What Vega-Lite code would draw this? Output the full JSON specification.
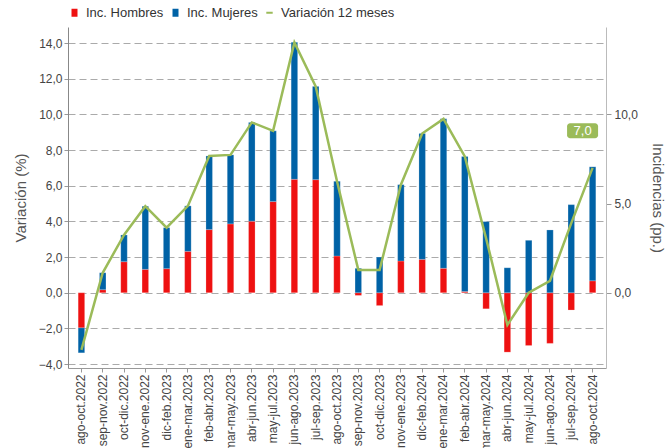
{
  "$schema": "https://vega.github.io/schema/vega-lite/v6.json",
  "width": 538,
  "height": 341,
  "autosize": {"type": "none"},
  "padding": {"left": 68, "top": 27, "right": 66, "bottom": 80},
  "config": {
    "locale": {"number": {"decimal": ",", "thousands": ".", "grouping": [3], "currency": ["", " €"]}},
    "font": "Liberation Sans",
    "view": {"stroke": null},
    "axis": {
      "labelFont": "Liberation Sans",
      "labelFontSize": 12,
      "labelColor": "#444444",
      "titleFont": "Liberation Sans",
      "titleFontSize": 15,
      "titleFontWeight": "normal",
      "titleColor": "#555555",
      "domainColor": "#999999",
      "tickColor": "#999999"
    },
    "legend": {"labelFont": "Liberation Sans"}
  },
  "datasets": {
    "barras": [
      {"periodo": "ago-oct.2022", "serie": "Inc. Hombres", "valor": -1.97},
      {"periodo": "ago-oct.2022", "serie": "Inc. Mujeres", "valor": -1.40},
      {"periodo": "sep-nov.2022", "serie": "Inc. Hombres", "valor": 0.17},
      {"periodo": "sep-nov.2022", "serie": "Inc. Mujeres", "valor": 0.95},
      {"periodo": "oct-dic.2022", "serie": "Inc. Hombres", "valor": 1.74},
      {"periodo": "oct-dic.2022", "serie": "Inc. Mujeres", "valor": 1.50},
      {"periodo": "nov-ene.2022", "serie": "Inc. Hombres", "valor": 1.31},
      {"periodo": "nov-ene.2022", "serie": "Inc. Mujeres", "valor": 3.54},
      {"periodo": "dic-feb.2023", "serie": "Inc. Hombres", "valor": 1.35},
      {"periodo": "dic-feb.2023", "serie": "Inc. Mujeres", "valor": 2.30},
      {"periodo": "ene-mar.2023", "serie": "Inc. Hombres", "valor": 2.32},
      {"periodo": "ene-mar.2023", "serie": "Inc. Mujeres", "valor": 2.55},
      {"periodo": "feb-abr.2023", "serie": "Inc. Hombres", "valor": 3.54},
      {"periodo": "feb-abr.2023", "serie": "Inc. Mujeres", "valor": 4.13},
      {"periodo": "mar-may.2023", "serie": "Inc. Hombres", "valor": 3.86},
      {"periodo": "mar-may.2023", "serie": "Inc. Mujeres", "valor": 3.87},
      {"periodo": "abr-jun.2023", "serie": "Inc. Hombres", "valor": 4.01},
      {"periodo": "abr-jun.2023", "serie": "Inc. Mujeres", "valor": 5.54},
      {"periodo": "may-jul.2023", "serie": "Inc. Hombres", "valor": 5.11},
      {"periodo": "may-jul.2023", "serie": "Inc. Mujeres", "valor": 3.97},
      {"periodo": "jun-ago.2023", "serie": "Inc. Hombres", "valor": 6.36},
      {"periodo": "jun-ago.2023", "serie": "Inc. Mujeres", "valor": 7.68},
      {"periodo": "jul-sep.2023", "serie": "Inc. Hombres", "valor": 6.34},
      {"periodo": "jul-sep.2023", "serie": "Inc. Mujeres", "valor": 5.23},
      {"periodo": "ago-oct.2023", "serie": "Inc. Hombres", "valor": 2.06},
      {"periodo": "ago-oct.2023", "serie": "Inc. Mujeres", "valor": 4.19},
      {"periodo": "sep-nov.2023", "serie": "Inc. Hombres", "valor": -0.15},
      {"periodo": "sep-nov.2023", "serie": "Inc. Mujeres", "valor": 1.37},
      {"periodo": "oct-dic.2023", "serie": "Inc. Hombres", "valor": -0.72},
      {"periodo": "oct-dic.2023", "serie": "Inc. Mujeres", "valor": 2.00},
      {"periodo": "nov-ene.2023", "serie": "Inc. Hombres", "valor": 1.78},
      {"periodo": "nov-ene.2023", "serie": "Inc. Mujeres", "valor": 4.28},
      {"periodo": "dic-feb.2024", "serie": "Inc. Hombres", "valor": 1.87},
      {"periodo": "dic-feb.2024", "serie": "Inc. Mujeres", "valor": 7.06},
      {"periodo": "ene-mar.2024", "serie": "Inc. Hombres", "valor": 1.37},
      {"periodo": "ene-mar.2024", "serie": "Inc. Mujeres", "valor": 8.38},
      {"periodo": "feb-abr.2024", "serie": "Inc. Hombres", "valor": 0.07},
      {"periodo": "feb-abr.2024", "serie": "Inc. Mujeres", "valor": 7.57},
      {"periodo": "mar-may.2024", "serie": "Inc. Hombres", "valor": -0.90},
      {"periodo": "mar-may.2024", "serie": "Inc. Mujeres", "valor": 3.99},
      {"periodo": "abr-jun.2024", "serie": "Inc. Hombres", "valor": -3.33},
      {"periodo": "abr-jun.2024", "serie": "Inc. Mujeres", "valor": 1.40},
      {"periodo": "may-jul.2024", "serie": "Inc. Hombres", "valor": -2.96},
      {"periodo": "may-jul.2024", "serie": "Inc. Mujeres", "valor": 2.94},
      {"periodo": "jun-ago.2024", "serie": "Inc. Hombres", "valor": -2.84},
      {"periodo": "jun-ago.2024", "serie": "Inc. Mujeres", "valor": 3.52},
      {"periodo": "jul-sep.2024", "serie": "Inc. Hombres", "valor": -0.97},
      {"periodo": "jul-sep.2024", "serie": "Inc. Mujeres", "valor": 4.94},
      {"periodo": "ago-oct.2024", "serie": "Inc. Hombres", "valor": 0.67},
      {"periodo": "ago-oct.2024", "serie": "Inc. Mujeres", "valor": 6.39}
    ],
    "linea": [
      {"periodo": "ago-oct.2022", "variacion": -3.2},
      {"periodo": "sep-nov.2022", "variacion": 1.12},
      {"periodo": "oct-dic.2022", "variacion": 3.24},
      {"periodo": "nov-ene.2022", "variacion": 4.85},
      {"periodo": "dic-feb.2023", "variacion": 3.65},
      {"periodo": "ene-mar.2023", "variacion": 4.87},
      {"periodo": "feb-abr.2023", "variacion": 7.67},
      {"periodo": "mar-may.2023", "variacion": 7.73},
      {"periodo": "abr-jun.2023", "variacion": 9.55},
      {"periodo": "may-jul.2023", "variacion": 9.08},
      {"periodo": "jun-ago.2023", "variacion": 14.04},
      {"periodo": "jul-sep.2023", "variacion": 11.57},
      {"periodo": "ago-oct.2023", "variacion": 6.25},
      {"periodo": "sep-nov.2023", "variacion": 1.28},
      {"periodo": "oct-dic.2023", "variacion": 1.28},
      {"periodo": "nov-ene.2023", "variacion": 6.06},
      {"periodo": "dic-feb.2024", "variacion": 8.93},
      {"periodo": "ene-mar.2024", "variacion": 9.75},
      {"periodo": "feb-abr.2024", "variacion": 7.64},
      {"periodo": "mar-may.2024", "variacion": 3.05},
      {"periodo": "abr-jun.2024", "variacion": -1.8},
      {"periodo": "may-jul.2024", "variacion": 0.0},
      {"periodo": "jun-ago.2024", "variacion": 0.67},
      {"periodo": "jul-sep.2024", "variacion": 3.9},
      {"periodo": "ago-oct.2024", "variacion": 7.0}
    ]
  },
  "encoding": {
    "x": {
      "field": "periodo",
      "type": "nominal",
      "scale": {
        "domain": ["ago-oct.2022", "sep-nov.2022", "oct-dic.2022", "nov-ene.2022", "dic-feb.2023", "ene-mar.2023", "feb-abr.2023", "mar-may.2023", "abr-jun.2023", "may-jul.2023", "jun-ago.2023", "jul-sep.2023", "ago-oct.2023", "sep-nov.2023", "oct-dic.2023", "nov-ene.2023", "dic-feb.2024", "ene-mar.2024", "feb-abr.2024", "mar-may.2024", "abr-jun.2024", "may-jul.2024", "jun-ago.2024", "jul-sep.2024", "ago-oct.2024"],
        "paddingInner": 0,
        "paddingOuter": 0.13
      },
      "axis": {
        "title": null,
        "labelAngle": -90,
        "tickSize": 4,
        "labelPadding": 2,
        "labelFontSize": 12,
        "domainColor": "#999999"
      }
    }
  },
  "layer": [
    {
      "data": {"name": "barras"},
      "mark": {"type": "bar", "width": 6.5, "stroke": "#ffffff", "strokeWidth": 0.4, "strokeOpacity": 0.5},
      "encoding": {
        "y": {
          "field": "valor",
          "type": "quantitative",
          "stack": "zero",
          "scale": {"domain": [-4.22, 14.9], "nice": false, "zero": false},
          "axis": {
            "title": "Variación (%)",
            "values": [-4, -2, 0, 2, 4, 6, 8, 10, 12, 14],
            "format": ".1f",
            "grid": true,
            "gridDash": [7, 4],
            "gridColor": "#aaaaaa",
            "gridWidth": 1,
            "tickSize": 4,
            "labelPadding": 2,
            "titlePadding": 10,
            "domainColor": "#888888"
          }
        },
        "color": {
          "field": "serie",
          "type": "nominal",
          "scale": {
            "domain": ["Inc. Hombres", "Inc. Mujeres", "Variación 12 meses"],
            "range": ["#EE1111", "#0062A6", "#9BBB59"]
          },
          "legend": {
            "orient": "top",
            "direction": "horizontal",
            "title": null,
            "offset": 7,
            "labelFontSize": 13,
            "labelColor": "#333333",
            "symbolSize": 64,
            "labelOffset": 5,
            "columnPadding": 5,
            "symbolStrokeWidth": 0,
            "symbolType": "M-0.75,-1H0.75V1H-0.75Z",
            "encoding": {
              "symbols": {
                "shape": {
                  "condition": {"test": "datum.label === 'Variación 12 meses'", "value": "M-0.8,-0.25H0.8V0.25H-0.8Z"},
                  "value": "M-0.75,-1H0.75V1H-0.75Z"
                }
              }
            }
          }
        },
        "order": {"field": "serie", "sort": "ascending"}
      }
    },
    {
      "data": {"name": "linea"},
      "mark": {"type": "line", "strokeWidth": 2.5, "color": "#9BBB59"},
      "encoding": {
        "y": {
          "field": "variacion",
          "type": "quantitative",
          "axis": {
            "orient": "right",
            "title": "Incidencias (pp.)",
            "values": [0, 5, 10],
            "format": ".1f",
            "grid": false,
            "tickSize": 5,
            "labelPadding": 3,
            "titlePadding": 12,
            "domainColor": "#bbbbbb"
          }
        },
        "color": {"datum": "Variación 12 meses"}
      }
    },
    {
      "data": {"name": "linea"},
      "transform": [{"filter": "datum.periodo === 'ago-oct.2024'"}],
      "mark": {"type": "bar", "width": 31, "cornerRadius": 3, "xOffset": -10, "color": "#9BBB59"},
      "encoding": {
        "y": {"datum": 8.66, "type": "quantitative", "axis": null},
        "y2": {"datum": 9.5}
      }
    },
    {
      "data": {"name": "linea"},
      "transform": [{"filter": "datum.periodo === 'ago-oct.2024'"}],
      "mark": {"type": "text", "dx": -10, "color": "#ffffff", "fontSize": 13, "baseline": "middle", "align": "center", "font": "Liberation Sans"},
      "encoding": {
        "y": {"datum": 9.08, "type": "quantitative", "axis": null},
        "text": {"field": "variacion", "type": "quantitative", "format": ".1f"}
      }
    }
  ],
  "resolve": {"scale": {"y": "shared"}, "axis": {"y": "independent"}}
}
